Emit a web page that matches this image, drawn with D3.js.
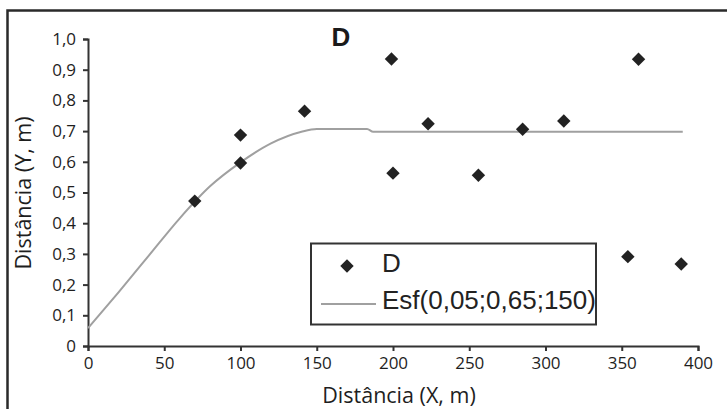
<!DOCTYPE html>
<html>
<head>
<meta charset="utf-8">
<script src="https://cdn.jsdelivr.net/npm/d3@7"></script>
<style>
  body { margin: 0; background: #fff; }
  svg { display: block; }
</style>
</head>
<body>
<svg id="chart" width="727" height="410"></svg>
<script>
// observed points (series D)
let pointX = [70, 100, 100, 142, 199, 200, 223, 256, 285, 312, 354, 361, 389]
let pointY = [0.472, 0.687, 0.596, 0.765, 0.935, 0.563, 0.724, 0.556, 0.706, 0.733, 0.291, 0.934, 0.267]

// fitted model line
let curveX = [0, 20, 40, 60, 80, 100, 120, 140, 150, 183, 187, 390]
let curveY = [0.058, 0.175, 0.295, 0.415, 0.52, 0.598, 0.66, 0.698, 0.707, 0.707, 0.698, 0.698]

let xTicks = [0, 50, 100, 150, 200, 250, 300, 350, 400]
let yTicks = [0, 0.1, 0.2, 0.3, 0.4, 0.5, 0.6, 0.7, 0.8, 0.9, 1.0]

let titleText = 'D'
let legendLabels = ['D', 'Esf(0,05;0,65;150)']

let svg = d3.select('#chart')
let tickFont = '"Open Sans", sans-serif'
let legendFont = '"Liberation Sans", Arial, sans-serif'

let x = d3.scaleLinear().domain([0, 400]).range([88, 698])
let y = d3.scaleLinear().domain([0, 1]).range([346, 39])

// outer frame (only top and left edges visible)
svg.append('path')
  .attr('d', 'M7.5,409 L7.5,10.5 L727,10.5')
  .attr('fill', 'none')
  .attr('stroke', '#2a2a2a')
  .attr('stroke-width', 2.5)

let fmt = d => d === 0 ? '0' : d3.format('.1f')(d).replace('.', ',')

// axes
let xAxis = svg.append('g')
  .attr('transform', `translate(0,${y(0)})`)
  .call(d3.axisBottom(x).tickValues(xTicks).tickSizeOuter(0).tickSize(5).tickPadding(6))
let yAxis = svg.append('g')
  .attr('transform', `translate(${x(0)},0)`)
  .call(d3.axisLeft(y).tickValues(yTicks).tickFormat(fmt).tickSizeOuter(0).tickSize(5).tickPadding(7))

;[xAxis, yAxis].forEach(a => {
  a.select('.domain').attr('stroke', '#333').attr('stroke-width', 2)
  a.selectAll('.tick line').attr('stroke', '#333').attr('stroke-width', 2)
  a.selectAll('.tick text')
    .attr('fill', '#1e1e1e')
    .style('font-family', tickFont)
    .style('font-size', '17px')
})

// axis titles
svg.append('text')
  .attr('x', 399).attr('y', 403)
  .attr('text-anchor', 'middle')
  .attr('fill', '#1e1e1e')
  .style('font-family', tickFont)
  .style('font-size', '21.5px')
  .text('Distância (X, m)')

svg.append('text')
  .attr('transform', 'translate(31,193) rotate(-90)')
  .attr('text-anchor', 'middle')
  .attr('fill', '#1e1e1e')
  .style('font-family', tickFont)
  .style('font-size', '21.5px')
  .text('Distância (Y, m)')

// chart title
svg.append('text')
  .attr('x', 341).attr('y', 46)
  .attr('text-anchor', 'middle')
  .attr('fill', '#1a1a1a')
  .style('font-family', legendFont)
  .style('font-weight', 'bold')
  .style('font-size', '26px')
  .text(titleText)

// model line
let line = d3.line()
  .x((d, i) => x(curveX[i]))
  .y(d => y(d))
  .curve(d3.curveMonotoneX)

svg.append('path')
  .datum(curveY)
  .attr('d', line)
  .attr('fill', 'none')
  .attr('stroke', '#a0a0a0')
  .attr('stroke-width', 2)

// diamonds
let diamond = d3.symbol().type(d3.symbolSquare).size(90)
svg.selectAll('path.point')
  .data(pointX)
  .join('path')
  .attr('class', 'point')
  .attr('d', diamond)
  .attr('transform', (d, i) => `translate(${x(d)},${y(pointY[i])}) rotate(45)`)
  .attr('fill', '#222')

// legend
let legend = svg.append('g')
legend.append('rect')
  .attr('x', 311).attr('y', 243.5)
  .attr('width', 285).attr('height', 81)
  .attr('fill', '#fff')
  .attr('stroke', '#333')
  .attr('stroke-width', 2)

legend.append('path')
  .attr('d', diamond)
  .attr('transform', 'translate(347,266) rotate(45)')
  .attr('fill', '#222')

legend.append('line')
  .attr('x1', 321).attr('x2', 376)
  .attr('y1', 304).attr('y2', 304)
  .attr('stroke', '#a0a0a0')
  .attr('stroke-width', 2)

legend.selectAll('text')
  .data(legendLabels)
  .join('text')
  .attr('x', 382)
  .attr('y', (d, i) => i === 0 ? 272 : 309)
  .attr('fill', '#222')
  .style('font-family', legendFont)
  .style('font-size', '26px')
  .text(d => d)
</script>
</body>
</html>
